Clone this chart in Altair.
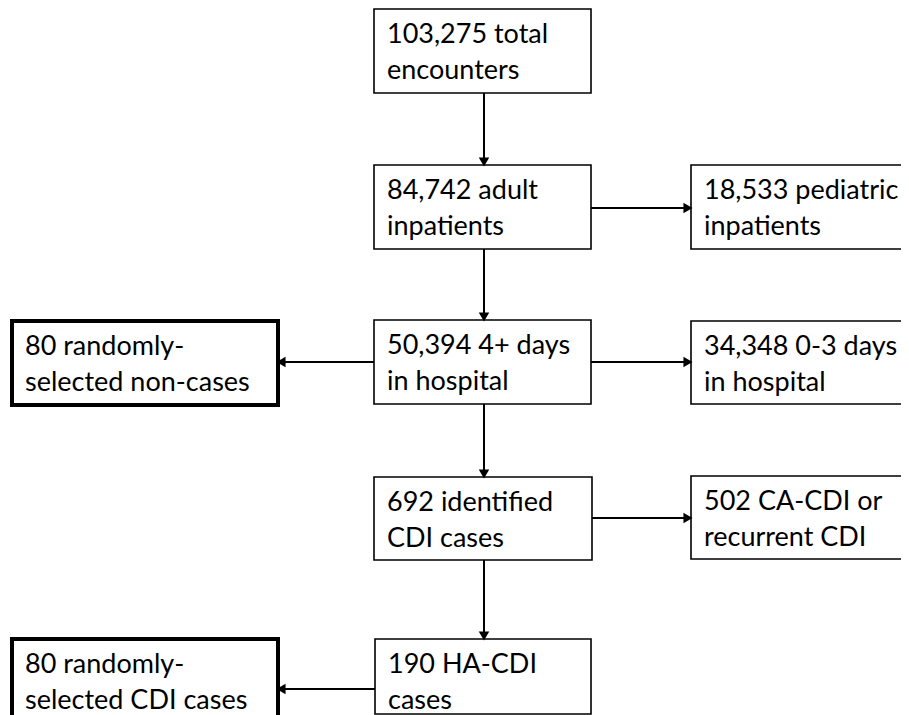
import math
import altair as alt
import pandas as pd

# ---- content: node labels (two lines each) ----
line1 = ["103,275 total", "84,742 adult", "18,533 pediatric", "80 randomly-",
         "50,394 4+ days", "34,348 0-3 days", "692 identified", "502 CA-CDI or",
         "80 randomly-", "190 HA-CDI"]
line2 = ["encounters", "inpatients", "inpatients", "selected non-cases",
         "in hospital", "in hospital", "CDI cases", "recurrent CDI",
         "selected CDI cases", "cases"]
thick = [False, False, False, True, False, False, False, False, True, False]

# ---- layout (pixel grid of the diagram) ----
box_left = [374, 374, 691, 12, 374, 691, 374, 691, 12, 375]
box_right = [591, 591, 960, 278, 591, 960, 592, 960, 278, 591]
box_top = [9, 165, 165, 321, 320, 321, 477, 476, 639, 639]
box_bottom = [93, 249, 249, 405, 404, 404, 560, 559, 740, 714]

# arrows: from-node -> to-node drawn as straight connectors
arr_x1 = [484, 591, 484, 374, 591, 484, 592, 484, 375]
arr_y1 = [93, 208, 249, 362, 362, 404, 518, 560, 689]
arr_x2 = [484, 691, 484, 278, 691, 484, 691, 484, 278]
arr_y2 = [165, 208, 320, 362, 362, 477, 518, 639, 689]

W, H = 893, 707
OX, OY = 8, 8
xs = alt.Scale(domain=[OX, OX + W], nice=False, zero=False)
ys = alt.Scale(domain=[OY, OY + H], nice=False, zero=False, reverse=True)

boxes = pd.DataFrame({
    "x0": box_left, "x1": box_right, "y0": box_top, "y1": box_bottom,
    "thick": thick,
})

texts = []
for i in range(len(line1)):
    texts.append({"x": box_left[i] + 13, "y": box_top[i] + 34, "t": line1[i]})
    texts.append({"x": box_left[i] + 13, "y": box_top[i] + 70, "t": line2[i]})
texts = pd.DataFrame(texts)

HEAD = 110
h = math.sqrt(3) * math.sqrt(HEAD) / 4
lines = pd.DataFrame({"x1": arr_x1, "y1": arr_y1, "x2": arr_x2, "y2": arr_y2})
heads = []
for a, b, c, d in zip(arr_x1, arr_y1, arr_x2, arr_y2):
    L = math.hypot(c - a, d - b)
    ux, uy = (c - a) / L, (d - b) / L
    ang = (math.degrees(math.atan2(uy, ux)) + 90) % 360
    heads.append({"x": c - ux * h, "y": d - uy * h, "angle": ang})
heads = pd.DataFrame(heads)

normal = alt.Chart(boxes[~boxes["thick"]]).mark_rect(
    fill="white", stroke="black", strokeWidth=1.6
).encode(
    x=alt.X("x0:Q", scale=xs, axis=None), x2="x1:Q",
    y=alt.Y("y0:Q", scale=ys, axis=None), y2="y1:Q",
)
bold = alt.Chart(boxes[boxes["thick"]]).mark_rect(
    fill="white", stroke="black", strokeWidth=4
).encode(
    x=alt.X("x0:Q", scale=xs, axis=None), x2="x1:Q",
    y=alt.Y("y0:Q", scale=ys, axis=None), y2="y1:Q",
)
conn = alt.Chart(lines).mark_rule(color="black", strokeWidth=2).encode(
    x=alt.X("x1:Q", scale=xs, axis=None), x2="x2:Q",
    y=alt.Y("y1:Q", scale=ys, axis=None), y2="y2:Q",
)
tips = alt.Chart(heads).mark_point(
    shape="triangle", filled=True, color="black", size=HEAD, opacity=1, strokeWidth=0
).encode(
    x=alt.X("x:Q", scale=xs, axis=None),
    y=alt.Y("y:Q", scale=ys, axis=None),
    angle=alt.Angle("angle:Q", scale=None),
)
label = alt.Chart(texts).mark_text(
    align="left", baseline="alphabetic", font="Lato", fontSize=27, color="black"
).encode(
    x=alt.X("x:Q", scale=xs, axis=None),
    y=alt.Y("y:Q", scale=ys, axis=None),
    text="t:N",
)

chart = alt.layer(conn, normal, bold, tips, label).properties(
    width=W, height=H, padding=0, autosize=alt.AutoSizeParams(type="none"),
    background="white",
).configure_view(stroke=None)

chart.save("out.html", embed_options={"renderer": "svg", "actions": False})
